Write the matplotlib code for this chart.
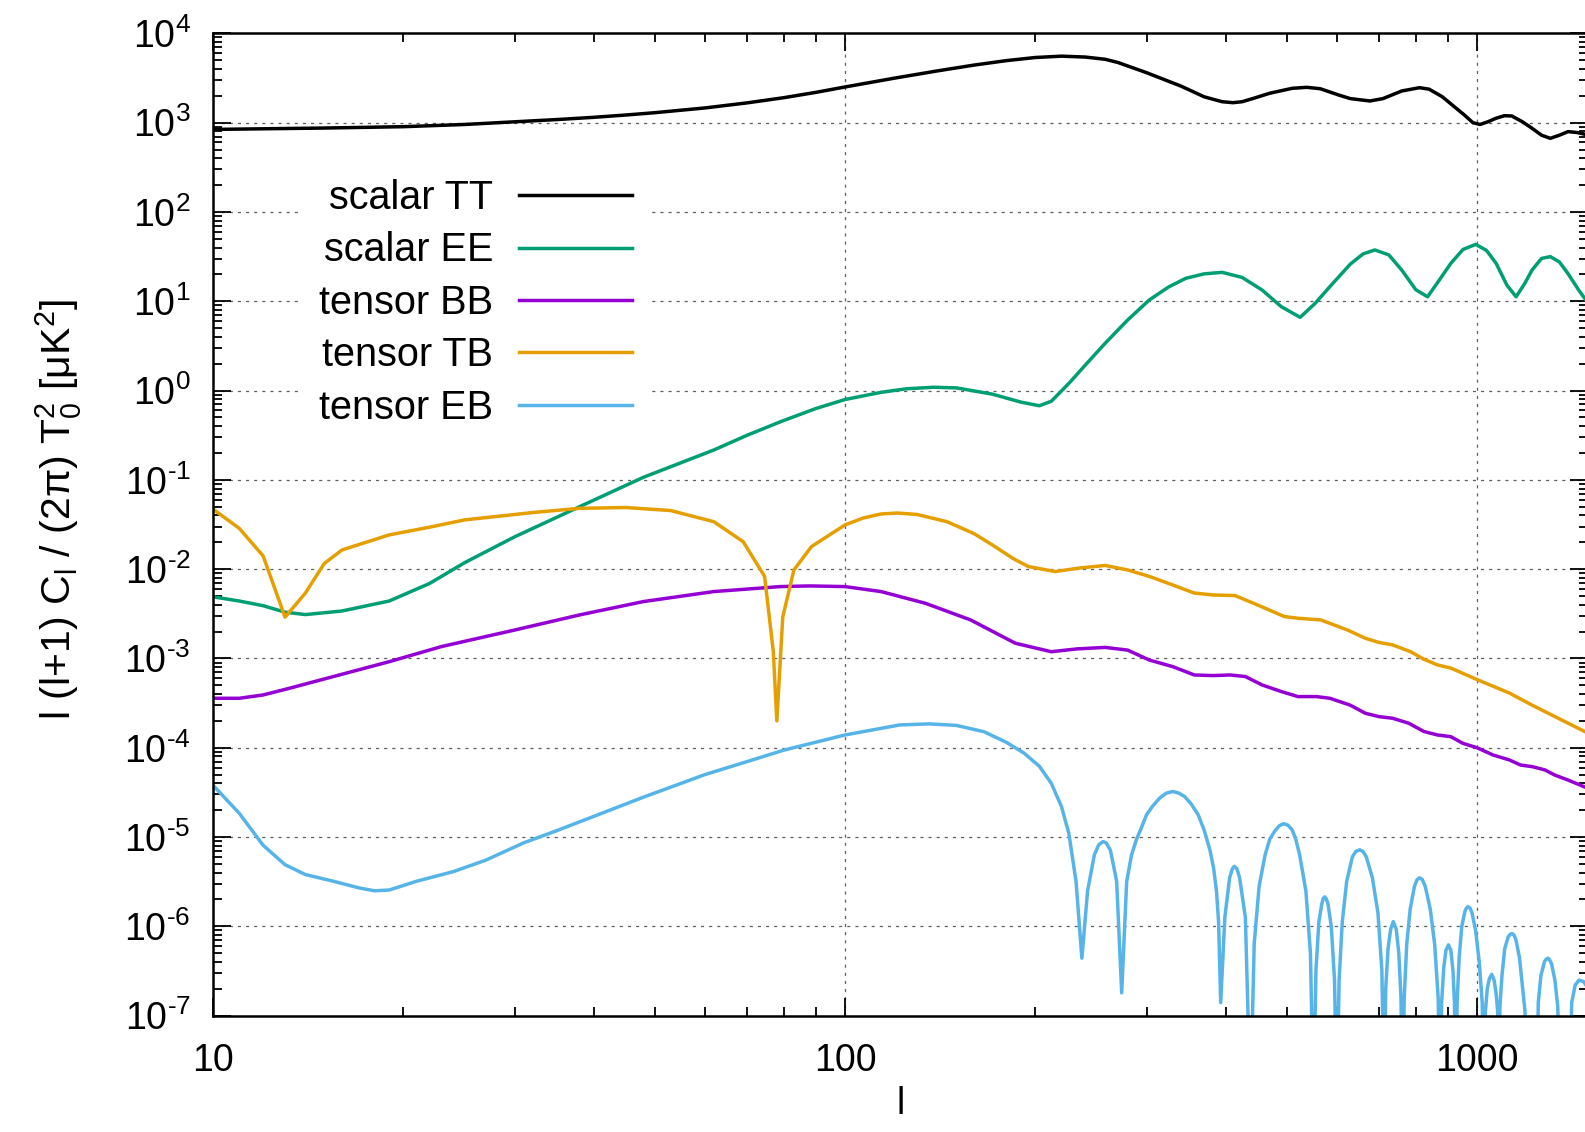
import numpy as np
import matplotlib.pyplot as plt
from matplotlib.ticker import FixedLocator, FuncFormatter, LogLocator, NullFormatter

plt.rcParams['font.family'] = ['Liberation Sans', 'DejaVu Sans']
plt.rcParams['mathtext.fontset'] = 'custom'
plt.rcParams['mathtext.rm'] = 'Liberation Sans'
plt.rcParams['mathtext.it'] = 'Liberation Sans:italic'
plt.rcParams['mathtext.bf'] = 'Liberation Sans:bold'

# ---- data (multipole l, power in muK^2) ----
tt_l = [10, 15, 20, 25, 30, 35, 40, 45, 50, 60, 70, 80, 90, 100, 120, 140, 160, 180,
        200, 220, 240, 258, 270, 300, 340, 370, 395, 411, 425, 443, 470, 510, 538, 565,
        604, 630, 677, 710, 760, 811, 840, 881, 920, 955, 985, 1011, 1040, 1072, 1105,
        1135, 1180, 1222, 1265, 1306, 1350, 1393, 1440, 1500]
tt_v = [841, 871, 902, 955, 1023, 1084, 1148, 1219, 1294, 1462, 1667, 1905, 2188, 2512,
        3162, 3802, 4416, 4955, 5370, 5559, 5433, 5129, 4732, 3631, 2570, 1950, 1718,
        1675, 1718, 1875, 2138, 2427, 2489, 2399, 2042, 1862, 1750, 1862, 2265, 2466,
        2371, 1954, 1514, 1219, 1000, 955, 1023, 1122, 1197, 1189, 1023, 865, 724, 668,
        724, 794, 776, 728]

ee_l = [10, 11, 12, 13, 14, 16, 19, 22, 25, 30, 38, 48, 62, 70, 79, 90, 100, 114, 125,
        138, 150, 171, 190, 203, 212, 226, 241, 258, 280, 303, 325, 346, 370, 395, 425,
        457, 490, 525, 555, 585, 630, 660, 689, 725, 760, 800, 835, 870, 909, 950, 995,
        1035, 1072, 1115, 1153, 1190, 1222, 1265, 1306, 1350, 1393, 1450, 1500]
ee_v = [0.0049, 0.0044, 0.0039, 0.0033, 0.0031, 0.0034, 0.0044, 0.0069, 0.0118, 0.023,
        0.050, 0.107, 0.216, 0.316, 0.447, 0.631, 0.794, 0.955, 1.047, 1.089, 1.072,
        0.912, 0.741, 0.676, 0.759, 1.202, 1.995, 3.388, 6.166, 10.35, 14.45, 18.07,
        20.28, 21.09, 18.49, 13.37, 8.71, 6.61, 9.55, 14.59, 26.0, 33.88, 37.58, 33.11,
        22.39, 13.49, 11.22, 16.98, 26.61, 38.02, 43.35, 37.15, 26.61, 15.14, 11.22,
        15.85, 22.39, 30.2, 31.62, 27.54, 20.42, 13.18, 9.48]

bb_l = [10, 11, 12, 13.2, 15.5, 19, 23, 30, 38, 48, 62, 79, 88, 100, 114, 134, 158, 186,
        212, 233, 258, 280, 303, 330, 357, 382, 407, 430, 457, 490, 521, 557, 585, 630,
        666, 700, 735, 780, 824, 866, 909, 950, 1000, 1060, 1125, 1172, 1222, 1280, 1327,
        1393, 1500]
bb_v = [3.58e-4, 3.58e-4, 3.9e-4, 4.63e-4, 6.27e-4, 9.2e-4, 1.36e-3, 2.08e-3, 3.07e-3,
        4.34e-3, 5.61e-3, 6.38e-3, 6.49e-3, 6.38e-3, 5.61e-3, 4.15e-3, 2.7e-3, 1.48e-3,
        1.19e-3, 1.28e-3, 1.33e-3, 1.24e-3, 9.6e-4, 8.1e-4, 6.53e-4, 6.43e-4, 6.53e-4,
        6.27e-4, 5.05e-4, 4.26e-4, 3.74e-4, 3.74e-4, 3.58e-4, 3.0e-4, 2.43e-4, 2.23e-4,
        2.14e-4, 1.88e-4, 1.52e-4, 1.39e-4, 1.33e-4, 1.12e-4, 1.0e-4, 8.3e-5, 7.3e-5,
        6.4e-5, 6.15e-5, 5.65e-5, 4.95e-5, 4.35e-5, 3.5e-5]

tb_l = [10, 11, 12, 13, 14, 15, 16, 19, 22, 25, 32, 38, 45, 53, 62, 69, 74.6, 77, 78,
        79.7, 83, 88.5, 100, 107, 114, 121, 130, 145, 160, 171, 185, 195, 215, 235, 258,
        280, 303, 330, 357, 382, 414, 443, 496, 521, 566, 624, 666, 700, 735, 785, 824,
        866, 909, 1000, 1125, 1222, 1370, 1500]
tb_v = [0.047, 0.0287, 0.0141, 0.0029, 0.0054, 0.0116, 0.0164, 0.0242, 0.0295, 0.0356,
        0.043, 0.048, 0.049, 0.0453, 0.034, 0.0203, 0.0083, 0.0012, 0.0002, 0.0029,
        0.0098, 0.0179, 0.0313, 0.0375, 0.0415, 0.0425, 0.041, 0.034, 0.025, 0.0187,
        0.013, 0.0107, 0.0094, 0.0103, 0.011, 0.0098, 0.0083, 0.00665, 0.0054, 0.00514,
        0.00506, 0.00415, 0.00294, 0.00282, 0.0027, 0.00208, 0.00168, 0.00151, 0.00142,
        0.00119, 0.00098, 0.000846, 0.00078, 0.00058, 0.00041, 0.0003, 0.0002, 0.000145]

# EB oscillates through zero; zeros drawn as 1e-8 (below the axis)
eb_l = [10, 11, 12, 13, 14, 15.5, 17, 18, 19, 21, 24, 27, 31, 35, 40, 48, 60, 70, 80,
        100, 122, 136, 150, 166, 180, 192, 203, 212, 220, 226, 232, 237,
        242, 248, 252, 256, 259, 263, 269, 274,
        279, 284, 289, 295, 300, 307, 315, 322, 330, 338, 345, 353, 362, 370, 378, 383,
        387, 390, 393,
        399, 406, 410, 413, 417, 421, 430, 438,
        444, 452, 462, 470, 478, 486, 494, 502, 510, 517, 524, 536, 545, 551,
        556, 562, 568, 571, 574, 577, 581, 588, 595, 600,
        605, 612, 622, 635, 643, 652, 660, 668, 683, 697, 707, 713,
        717, 723, 730, 737, 745, 752, 758, 762,
        767, 774, 784, 796, 803, 811, 819, 828, 843, 857, 868, 874,
        879, 886, 893, 901, 909, 916, 921, 925,
        930, 937, 946, 957, 962, 968, 975, 982, 995, 1008, 1019, 1026,
        1031, 1038, 1046, 1055, 1064, 1072, 1078, 1081,
        1087, 1095, 1106, 1120, 1128, 1136, 1144, 1152, 1167, 1181, 1191, 1197,
        1242, 1250, 1262, 1278, 1287, 1295, 1303, 1312, 1328, 1342, 1352,
        1400, 1412, 1430, 1450, 1475, 1500]
eb_v = [3.8e-5, 1.85e-5, 8.1e-6, 4.9e-6, 3.8e-6, 3.2e-6, 2.7e-6, 2.5e-6, 2.55e-6,
        3.2e-6, 4.1e-6, 5.5e-6, 8.6e-6, 1.18e-5, 1.7e-5, 2.8e-5, 5.0e-5, 7.0e-5, 9.4e-5,
        1.39e-4, 1.8e-4, 1.85e-4, 1.78e-4, 1.51e-4, 1.15e-4, 8.7e-5, 6.2e-5, 4.0e-5,
        2.2e-5, 1.1e-5, 3.2e-6, 4.4e-7,
        2.5e-6, 6.3e-6, 8.2e-6, 8.9e-6, 8.6e-6, 7.1e-6, 3.2e-6, 1.8e-7,
        3.16e-6, 6.3e-6, 9.3e-6, 1.32e-5, 1.78e-5, 2.24e-5, 2.75e-5, 3.09e-5, 3.24e-5,
        3.09e-5, 2.82e-5, 2.34e-5, 1.78e-5, 1.2e-5, 7.1e-6, 4.47e-6,
        2.5e-6, 1.12e-6, 1.4e-7,
        1.26e-6, 3.5e-6, 4.4e-6, 4.7e-6, 4.4e-6, 3.5e-6, 1.26e-6, 1e-8,
        6.3e-7, 2.8e-6, 6.3e-6, 9.5e-6, 1.15e-5, 1.33e-5, 1.41e-5, 1.36e-5, 1.2e-5,
        9.3e-6, 6.3e-6, 2.5e-6, 5.0e-7, 1e-8,
        3.2e-7, 1.12e-6, 1.78e-6, 2.05e-6, 2.14e-6, 2.05e-6, 1.78e-6, 1.0e-6, 2.5e-7, 1e-8,
        2.5e-7, 1.12e-6, 3.2e-6, 6.0e-6, 6.9e-6, 7.2e-6, 6.9e-6, 6.0e-6, 3.5e-6, 1.41e-6,
        3.2e-7, 1e-8,
        2.0e-7, 5.6e-7, 9.3e-7, 1.13e-6, 9.3e-7, 5.0e-7, 1.58e-7, 1e-8,
        1.58e-7, 6.3e-7, 1.58e-6, 2.8e-6, 3.3e-6, 3.5e-6, 3.35e-6, 2.8e-6, 1.58e-6,
        6.3e-7, 1.58e-7, 1e-8,
        1.41e-7, 3.5e-7, 5.4e-7, 6.2e-7, 5.4e-7, 3.2e-7, 1.41e-7, 1e-8,
        1.41e-7, 4.5e-7, 1.0e-6, 1.48e-6, 1.6e-6, 1.66e-6, 1.6e-6, 1.41e-6, 8.9e-7,
        4.0e-7, 1.41e-7, 1e-8,
        1.12e-7, 2.0e-7, 2.6e-7, 2.9e-7, 2.5e-7, 1.78e-7, 1.12e-7, 1e-8,
        1.26e-7, 2.8e-7, 5.6e-7, 7.6e-7, 8.1e-7, 8.3e-7, 8.0e-7, 7.1e-7, 4.5e-7, 2.0e-7,
        1.12e-7, 1e-8,
        1e-8, 1.41e-7, 2.8e-7, 4.0e-7, 4.3e-7, 4.4e-7, 4.2e-7, 3.8e-7, 2.5e-7, 1.26e-7,
        1e-8,
        1e-8, 1.41e-7, 2.2e-7, 2.5e-7, 2.4e-7, 2.0e-7]

series = [
    ('scalar TT', tt_l, tt_v, '#000000'),
    ('scalar EE', ee_l, ee_v, '#009e73'),
    ('tensor BB', bb_l, bb_v, '#9400d3'),
    ('tensor TB', tb_l, tb_v, '#e69f00'),
    ('tensor EB', eb_l, eb_v, '#56b4e9'),
]

x_major = [10, 100, 1000]
FS = 27

fig = plt.figure(figsize=(15.85, 11.32), dpi=100)
ax = fig.add_axes([0.1344, 0.1028, 0.8677, 0.8677])

for name, l, v, c in series:
    assert len(l) == len(v), name
    ax.plot(l, v, color=c, lw=2.5, label=name)

ax.set_xscale('log')
ax.set_yscale('log')
ax.set_xlim(10, 1500)
ax.set_ylim(1e-7, 1e4)

ax.xaxis.set_major_locator(FixedLocator(x_major))
ax.xaxis.set_major_formatter(FuncFormatter(lambda v, p: '%d' % v))
ax.xaxis.set_minor_locator(LogLocator(base=10, subs=np.arange(2, 10), numticks=20))
ax.xaxis.set_minor_formatter(NullFormatter())


def pow_label(v, pos):
    e = int(round(np.log10(v)))
    if e < 0:
        return r'$\mathregular{10^{‐%d}}$' % (-e)
    return r'$\mathregular{10^{%d}}$' % e


ax.yaxis.set_major_locator(LogLocator(base=10, numticks=20))
ax.yaxis.set_major_formatter(FuncFormatter(pow_label))
ax.yaxis.set_minor_locator(LogLocator(base=10, subs=np.arange(2, 10), numticks=20))
ax.yaxis.set_minor_formatter(NullFormatter())

ax.tick_params(which='both', direction='in', top=True, right=True, width=1.3)
ax.tick_params(which='major', length=13, labelsize=FS)
ax.tick_params(axis='y', which='major', pad=16)
ax.tick_params(axis='x', which='major', pad=20)
ax.tick_params(which='minor', length=6.5)
for s in ax.spines.values():
    s.set_linewidth(1.8)

ax.grid(True, which='major', color='#606060', lw=0.9, ls=(0, (2.5, 4)))

ax.set_xlabel('l', fontsize=FS)
ax.xaxis.set_label_coords(0.5, -0.072)
ax.set_ylabel(r'l (l+1) $\mathregular{C_l}$ / (2π) $\mathregular{T_0^2}$ [μ$\mathregular{K^2}$]',
              fontsize=29.5)
ax.yaxis.set_label_coords(-0.094, 0.515)

leg = ax.legend(loc='upper right', bbox_to_anchor=(0.319, 0.872), borderaxespad=0,
                markerfirst=False, fancybox=False, framealpha=1, facecolor='white',
                edgecolor='none', fontsize=28.5, handlelength=2.85, handletextpad=0.66,
                labelspacing=0.365, borderpad=0.5)

fig.savefig('out.png', dpi=100)
